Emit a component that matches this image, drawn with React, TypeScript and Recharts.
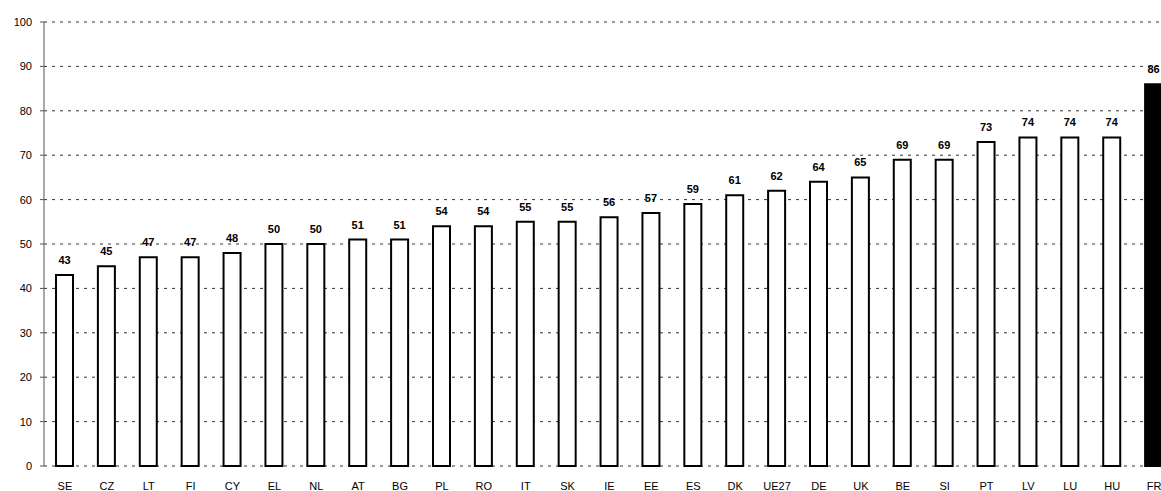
import { BarChart, Bar, XAxis, YAxis, CartesianGrid, LabelList, Cell } from 'recharts';

const countries = [
  'SE', 'CZ', 'LT', 'FI', 'CY', 'EL', 'NL', 'AT', 'BG', 'PL', 'RO', 'IT', 'SK', 'IE',
  'EE', 'ES', 'DK', 'UE27', 'DE', 'UK', 'BE', 'SI', 'PT', 'LV', 'LU', 'HU', 'FR',
];
const values = [
  43, 45, 47, 47, 48, 50, 50, 51, 51, 54, 54, 55, 55, 56,
  57, 59, 61, 62, 64, 65, 69, 69, 73, 74, 74, 74, 86,
];
const highlighted = ['FR'];
const yTicks = [0, 10, 20, 30, 40, 50, 60, 70, 80, 90, 100];

const data = countries.map((c, i) => ({ country: c, value: values[i] }));

const FONT = 'Liberation Sans, Arial, sans-serif';

export default function App() {
  return (
    <div
      style={{
        position: 'absolute',
        left: 0,
        top: 0,
        width: 1161,
        height: 491,
        overflow: 'hidden',
        background: '#fff',
      }}
    >
      <BarChart
        width={1175}
        height={491}
        data={data}
        margin={{ top: 22, right: 0, bottom: 0, left: 0 }}
        barCategoryGap={0}
      >
        <CartesianGrid
          vertical={false}
          stroke="#333"
          strokeDasharray="3 5"
          strokeWidth={1}
        />
        <XAxis
          dataKey="country"
          axisLine={false}
          tickLine={false}
          tickSize={0}
          tickMargin={16}
          height={25}
          interval={0}
          tick={{ fill: '#000', fontSize: 11, fontFamily: FONT }}
        />
        <YAxis
          width={44}
          domain={[0, 100]}
          ticks={yTicks}
          interval={0}
          axisLine={{ stroke: '#555', strokeWidth: 1 }}
          tickLine={{ stroke: '#555' }}
          tickSize={4}
          tickMargin={8}
          tick={{ fill: '#000', fontSize: 11, fontFamily: FONT }}
        />
        <Bar
          dataKey="value"
          barSize={17}
          stroke="#000"
          strokeWidth={2}
          isAnimationActive={false}
        >
          {data.map((d, i) => (
            <Cell key={i} fill={highlighted.includes(d.country) ? '#000' : '#fff'} />
          ))}
          <LabelList
            dataKey="value"
            position="top"
            offset={11}
            style={{ fill: '#000', fontSize: 11, fontWeight: 'bold', fontFamily: FONT }}
          />
        </Bar>
      </BarChart>
    </div>
  );
}
